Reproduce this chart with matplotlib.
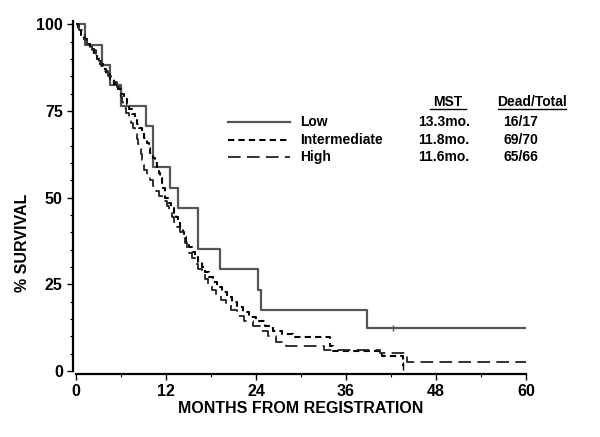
import matplotlib
matplotlib.use("Agg")
import matplotlib.pyplot as plt
from matplotlib.lines import Line2D
from matplotlib.ticker import MultipleLocator

plt.rcParams['font.family'] = ['Liberation Sans', 'DejaVu Sans']

# step curves: time of drop (months) and % surviving after it
low_t = [0, 1.2, 3.5, 4.5, 6.0, 9.3, 10.3, 12.5, 13.6, 16.3, 19.2, 24.2, 24.6, 38.8, 60]
low_s = [100, 94.1, 88.2, 82.4, 76.5, 70.6, 58.8, 52.9, 47.1, 35.3, 29.4, 23.5, 17.6, 12.5, 12.5]
low_cens_t = [42.3]
low_cens_s = [12.5]

int_t = [0, 0.3, 0.7, 1.1, 1.4, 1.9, 2.4, 2.8, 3.2, 3.6, 4.0, 4.5, 5.1, 5.6, 6.0, 6.4,
         6.8, 7.0, 7.4, 7.8, 8.1, 8.4, 8.8, 9.1, 9.4, 9.7, 9.9, 10.2, 10.5, 10.8, 11.0,
         11.2, 11.4, 11.6, 11.8, 11.9, 12.3, 12.7, 13.0, 13.3, 13.6, 13.9, 14.2, 14.4,
         14.7, 15.0, 15.4, 15.8, 16.3, 16.8, 17.2, 17.7, 18.2, 18.8, 19.4, 20.1, 20.8,
         21.5, 22.2, 23.0, 24.0, 25.2, 26.3, 27.4, 28.9, 33.8, 34.2, 40.8, 43.6]
int_s = [100, 98.6, 97.1, 95.7, 94.3, 92.9, 91.4, 90, 88.6, 87.1, 85.7, 84.3, 82.9, 81.4,
         80, 78.6, 77.1, 75.7, 74.3, 72.9, 71.4, 70, 68.6, 67.1, 65.7, 64.3, 62.9, 61.4, 60,
         58.6, 57.1, 55.7, 54.3, 52.9, 51.4, 50, 48.6, 47.1, 45.7, 44.3, 42.9, 41.4, 40,
         38.6, 37.1, 35.7, 34.3, 32.9, 31.4, 30, 28.6, 27.1, 25.7, 24.3, 22.9, 21.4, 20,
         18.6, 17.1, 15.7, 14.3, 12.9, 11.4, 10.7, 9.8, 7.1, 5.7, 4.3, 1.5]
int_cens_t = [43.6]
int_cens_s = [1.5]

high_t = [0, 0.4, 0.9, 1.2, 1.5, 2.1, 2.6, 3.0, 3.3, 3.8, 4.3, 4.7, 5.4, 5.8, 6.0, 6.1,
          6.3, 6.7, 7.0, 7.3, 7.6, 7.9, 8.1, 8.3, 8.5, 8.7, 8.8, 8.9, 9.0, 9.4, 9.8, 10.3,
          10.7, 11.0, 11.5, 12.1, 12.4, 12.8, 13.1, 13.5, 13.8, 14.2, 14.5, 14.8, 15.1,
          15.4, 15.9, 16.3, 16.8, 17.2, 17.6, 18.1, 18.7, 19.3, 20.0, 20.6, 21.4, 22.4,
          23.6, 24.6, 25.6, 26.6, 28.0, 33.0, 40.5, 44.1, 60]
high_s = [100, 98.5, 97, 95.5, 94, 92.5, 91, 89.5, 88, 86.5, 85, 83.5, 82, 80.5, 79, 77.5,
          76, 74.5, 73, 71.5, 70, 68.5, 67, 65.5, 64, 62.5, 61, 59.5, 58, 56.5, 55, 53.5,
          52, 50.5, 49, 47.5, 46, 44.5, 43, 41.5, 40, 38.5, 37, 35.5, 34, 32.5, 31, 29.5,
          28, 26.5, 25, 23.5, 22, 20.5, 19, 17.5, 16, 14.5, 13, 11.5, 10, 8.5, 7.3, 6.0,
          5.2, 2.6, 2.6]

groups = ['Low', 'Intermediate', 'High']
mst = ['13.3mo.', '11.8mo.', '11.6mo.']
dead_total = ['16/17', '69/70', '65/66']

W, H = 600, 437
fig = plt.figure(figsize=(W / 100, H / 100), dpi=100)
ax = fig.add_axes([76 / W, 1 - 371 / H, 450 / W, 350 / H])

styles = [dict(color='#555555', lw=1.6, ls='-'),
          dict(color='black', lw=1.5, ls=(0, (3, 2))),
          dict(color='#222222', lw=1.3, ls=(0, (7, 3.5)))]

ax.step(low_t, low_s, where='post', **styles[0])
ax.step(int_t, int_s, where='post', **styles[1])
ax.step(high_t, high_s, where='post', **styles[2])
ax.plot(low_cens_t, low_cens_s, ls='none', marker='|', ms=5, color='#555555', mew=1)
ax.plot(int_cens_t, int_cens_s, ls='none', marker='|', ms=6, color='black', mew=1)

ax.set_xlim(0, 60)
ax.set_ylim(0, 101)
ax.set_xticks([0, 12, 24, 36, 48, 60])
ax.xaxis.set_minor_locator(MultipleLocator(6))
ax.set_yticks([0, 25, 50, 75, 100])
ax.yaxis.set_minor_locator(MultipleLocator(5))
for s in ['top', 'right']:
    ax.spines[s].set_visible(False)
for s in ['left', 'bottom']:
    ax.spines[s].set_linewidth(1.6)
    ax.spines[s].set_position(('outward', 2))
ax.tick_params(which='major', length=4, width=1, labelsize=11.5, direction='out')
ax.tick_params(which='minor', length=2.5, width=0.8, direction='out')
for lab in ax.get_xticklabels() + ax.get_yticklabels():
    lab.set_fontweight('bold')
ax.set_xlabel('MONTHS FROM REGISTRATION', fontsize=11.5, fontweight='bold', labelpad=1)
ax.set_ylabel('% SURVIVAL', fontsize=11.5, fontweight='bold')
ax.yaxis.set_label_coords(-0.102, 0.365)

# legend table
def fx(px):
    return px / W

def fy(py):
    return 1 - py / H

fs = 10
fig.text(fx(448), fy(102), 'MST', fontsize=fs, fontweight='bold', ha='center', va='center')
fig.text(fx(532), fy(102), 'Dead/Total', fontsize=fs, fontweight='bold', ha='center', va='center')
fig.add_artist(Line2D([fx(430), fx(466)], [fy(109), fy(109)], color='black', lw=1))
fig.add_artist(Line2D([fx(498), fx(566)], [fy(109), fy(109)], color='black', lw=1))
rows_y = [122, 140, 157]
for i, g in enumerate(groups):
    y = rows_y[i]
    fig.add_artist(Line2D([fx(228), fx(290)], [fy(y), fy(y)], **styles[i]))
    fig.text(fx(300), fy(y), g, fontsize=fs, fontweight='bold', va='center')
    fig.text(fx(418), fy(y), mst[i], fontsize=fs, fontweight='bold', va='center')
    fig.text(fx(521), fy(y), dead_total[i], fontsize=fs, fontweight='bold', ha='center', va='center')

fig.savefig('out.png', dpi=100)
